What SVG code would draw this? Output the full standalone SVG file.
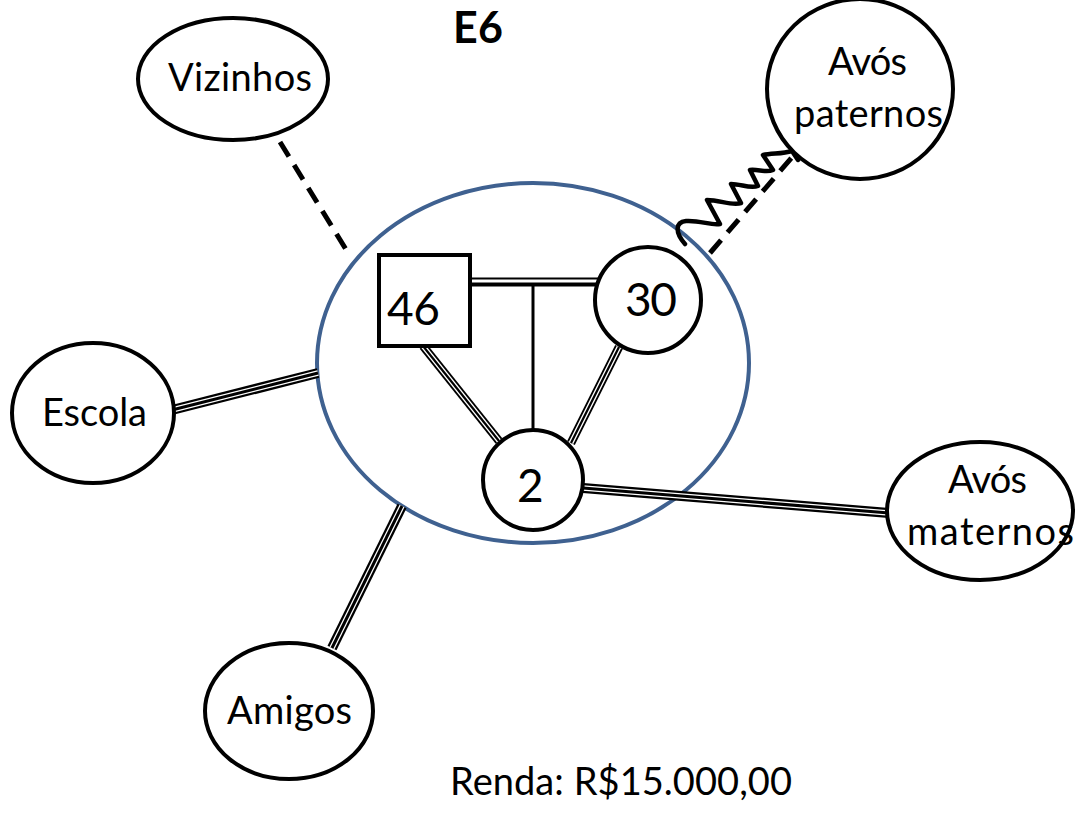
<svg xmlns="http://www.w3.org/2000/svg" width="1078" height="813" viewBox="0 0 1078 813">
  <style>
    .node { fill: #fff; stroke: #000; stroke-width: 4; }
    .family { fill: none; stroke: #3f6190; stroke-width: 4; }
    .lbl { font-family: Lato, "Liberation Sans", sans-serif; font-size: 38px; fill: #000; }
    .num { font-family: Lato, "Liberation Sans", sans-serif; font-size: 46px; fill: #000; }
    .title { font-family: Lato, "Liberation Sans", sans-serif; font-size: 43px; font-weight: bold; fill: #000; }
    .dash { fill: none; stroke: #000; stroke-width: 5; stroke-dasharray: 17 10; }
    .wave { fill: none; stroke: #000; stroke-width: 4.5; stroke-linejoin: round; stroke-linecap: round; }
    .solid { fill: none; stroke: #000; stroke-width: 3; }
    .t-outer { fill: none; stroke: #000; stroke-width: 10; }
    .t-gap { fill: none; stroke: #fff; stroke-width: 5.5; }
    .t-core { fill: none; stroke: #000; stroke-width: 3; }
    .s-outer { fill: none; stroke: #000; stroke-width: 8.5; }
    .s-gap { fill: none; stroke: #fff; stroke-width: 5; }
    .s-core { fill: none; stroke: #000; stroke-width: 2.2; }
  </style>
  <defs>
    <path id="l-escola" d="M172,410 L318,373"/>
    <path id="l-amigos" d="M402,506 L332,648"/>
    <path id="l-maternos" d="M583,488 L889,513"/>
    <path id="l-pai-filho" d="M423,346 L499,441"/>
    <path id="l-mae-filho" d="M619,347 L571,443"/>
  </defs>

  <rect width="1078" height="813" fill="#fff"/>

  <!-- household boundary -->
  <ellipse class="family" cx="533" cy="363" rx="216" ry="180"/>

  <!-- connectors -->
  <g id="connectors">
    <line class="dash" x1="280" y1="142" x2="350" y2="256"/>
    <line class="dash" x1="710" y1="253" x2="793" y2="156"/>
    <path class="wave" d="M685,244 C675,233 675,222 686,221 C700,220 712,226 720,224 L707,200 C720,200 732,206 741,203 L731,184 C741,184 750,189 758,186 L750,170 C758,169 766,173 773,170 L763,155 C772,153 782,154 792,151 L798,160"/>

    <use href="#l-escola" class="t-outer"/><use href="#l-escola" class="t-gap"/><use href="#l-escola" class="t-core"/>
    <use href="#l-amigos" class="t-outer"/><use href="#l-amigos" class="t-gap"/><use href="#l-amigos" class="t-core"/>
    <use href="#l-maternos" class="t-outer"/><use href="#l-maternos" class="t-gap"/><use href="#l-maternos" class="t-core"/>
    <use href="#l-pai-filho" class="s-outer"/><use href="#l-pai-filho" class="s-gap"/><use href="#l-pai-filho" class="s-core"/>
    <use href="#l-mae-filho" class="s-outer"/><use href="#l-mae-filho" class="s-gap"/><use href="#l-mae-filho" class="s-core"/>

    <!-- couple line -->
    <line x1="472" y1="282" x2="598" y2="282" stroke="#000" stroke-width="9"/>
    <line x1="472" y1="281" x2="598" y2="281" stroke="#fff" stroke-width="3"/>
    <line class="solid" x1="533" y1="284" x2="533" y2="430"/>
  </g>

  <!-- family members -->
  <g id="pai">
    <rect class="node" x="379" y="255" width="91" height="91"/>
    <text class="num" x="387" y="325" textLength="53">46</text>
  </g>
  <g id="mae">
    <circle class="node" cx="648" cy="300" r="53"/>
    <text class="num" x="625" y="316" textLength="52">30</text>
  </g>
  <g id="filho">
    <circle class="node" cx="533" cy="480" r="50"/>
    <text class="num" x="517" y="502" textLength="24">2</text>
  </g>

  <!-- external network -->
  <g id="vizinhos">
    <ellipse class="node" cx="233" cy="79" rx="95" ry="61"/>
    <text class="lbl" x="168" y="91" textLength="144">Vizinhos</text>
  </g>
  <g id="avos-paternos">
    <ellipse class="node" cx="860" cy="89" rx="93" ry="90"/>
    <text class="lbl" x="828" y="75" textLength="79">Avós</text>
    <text class="lbl" x="794" y="127" textLength="149">paternos</text>
  </g>
  <g id="escola">
    <ellipse class="node" cx="93" cy="413" rx="81" ry="70"/>
    <text class="lbl" x="42" y="426" textLength="105">Escola</text>
  </g>
  <g id="avos-maternos">
    <ellipse class="node" cx="980" cy="511" rx="93" ry="69"/>
    <text class="lbl" x="948" y="493" textLength="79">Avós</text>
    <text class="lbl" x="907" y="545" textLength="167">maternos</text>
  </g>
  <g id="amigos">
    <ellipse class="node" cx="289" cy="711" rx="84" ry="68"/>
    <text class="lbl" x="227" y="724" textLength="125">Amigos</text>
  </g>

  <!-- headings -->
  <text class="title" x="453" y="43" textLength="50">E6</text>
  <text class="lbl" x="450" y="795" font-size="35" textLength="342">Renda: R$15.000,00</text>
</svg>
